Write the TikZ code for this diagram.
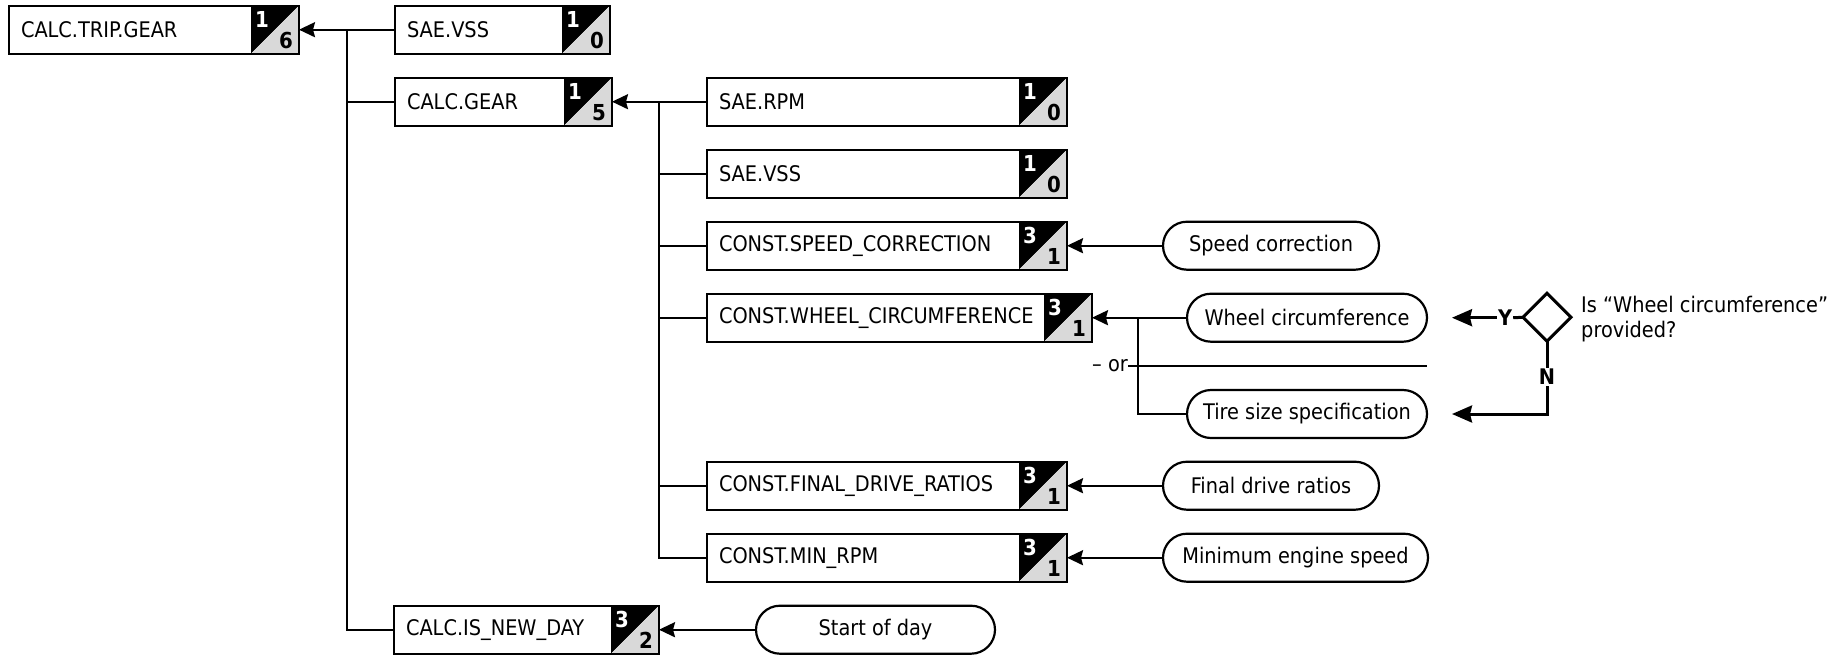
\documentclass[tikz,border=0pt]{standalone}
\usepackage{fontspec}
\setmainfont{DejaVu Sans Condensed}
\usetikzlibrary{arrows.meta,shapes.geometric,shapes.misc}
\definecolor{badgegray}{HTML}{D9D9D9}
\tikzset{
  txt/.style={font=\fontsize{21.5}{25}\selectfont},
  box/.style={draw, line width=2.2pt, minimum height=48pt, inner xsep=12pt, inner ysep=0pt, outer sep=0pt, align=left, txt},
  pill/.style={draw, rounded rectangle, line width=2.2pt, minimum height=48pt, inner sep=0pt, outer sep=0pt, txt},
  topnum/.style={inner sep=0pt, text=white, font=\fontsize{22}{25}\selectfont\bfseries},
  botnum/.style={inner sep=0pt, text=black, font=\fontsize{22}{25}\selectfont\bfseries},
  conn/.style={line width=2.2pt},
  arr/.style={line width=2.2pt, -{Stealth[length=16pt,width=15pt,inset=2pt]}},
  bigarr/.style={line width=3pt, -{Stealth[length=20pt,width=17pt,inset=2pt]}},
  declbl/.style={inner sep=1pt, font=\fontsize{21.5}{25}\selectfont\bfseries},
}
\newcommand\databox[7]{%
  \fill[black] ({#3-48},{#4-24}) -- ({#3},{#4-24}) -- ({#3-48},{#4+24}) -- cycle;
  \fill[badgegray] ({#3},{#4-24}) -- ({#3},{#4+24}) -- ({#3-48},{#4+24}) -- cycle;
  \pgfmathsetmacro\bxw{#3-#2-24}
  \node[box, text width=\bxw pt, anchor=west] (#1) at (#2,#4) {#5};
  \node[topnum] (#1-a) at ({#3-37},{#4-10}) {#6};
  \node[botnum] (#1-b) at ({#3-13},{#4+11}) {#7};
}
\begin{document}
\begin{tikzpicture}[x=1pt,y=-1pt]
\useasboundingbox (0,0) rectangle (1835,654);
% boxes
\databox{tripgear}{9}{299}{29.7}{CALC.TRIP.GEAR}{1}{6}
\databox{vssa}{395}{610}{29.7}{SAE.VSS}{1}{0}
\databox{calcgear}{395}{612}{101.7}{CALC.GEAR}{1}{5}
\databox{rpm}{707}{1067}{101.7}{SAE.RPM}{1}{0}
\databox{vssb}{707}{1067}{173.7}{SAE.VSS}{1}{0}
\databox{speed}{707}{1067}{245.7}{CONST.SPEED\_CORRECTION}{3}{1}
\databox{wheel}{707}{1092}{317.7}{CONST.WHEEL\_CIRCUMFERENCE}{3}{1}
\databox{final}{707}{1067}{485.7}{CONST.FINAL\_DRIVE\_RATIOS}{3}{1}
\databox{minrpm}{707}{1067}{557.7}{CONST.MIN\_RPM}{3}{1}
\databox{newday}{394}{659}{629.7}{CALC.IS\_NEW\_DAY}{3}{2}
% pills
\node[pill, minimum width=216pt, anchor=west] (speedp) at (1163,245.7) {Speed correction};
\node[pill, minimum width=240pt, anchor=west] (wheelp) at (1187,317.7) {Wheel circumference};
\node[pill, minimum width=240pt, anchor=west] (tirep) at (1187,414) {Tire size specification};
\node[pill, minimum width=216pt, anchor=west] (finalp) at (1163,485.7) {Final drive ratios};
\node[pill, minimum width=265pt, anchor=west] (minp) at (1163,557.7) {Minimum engine speed};
\node[pill, minimum width=239pt, anchor=west] (dayp) at (756,629.7) {Start of day};
% trunk coordinates
\coordinate (t1) at (347,0);
\coordinate (t2) at (659,0);
\coordinate (t3) at (1138,0);
% level 1
\draw[arr] (vssa.west) -- (tripgear.east);
\draw[conn] (t1 |- tripgear.east) -- (t1 |- newday.west) -- (newday.west);
\draw[conn] (t1 |- calcgear.west) -- (calcgear.west);
% level 2
\draw[arr] (rpm.west) -- (calcgear.east);
\draw[conn] (t2 |- calcgear.east) -- (t2 |- minrpm.west) -- (minrpm.west);
\draw[conn] (t2 |- vssb.west) -- (vssb.west);
\draw[conn] (t2 |- speed.west) -- (speed.west);
\draw[conn] (t2 |- wheel.west) -- (wheel.west);
\draw[conn] (t2 |- final.west) -- (final.west);
% inputs
\draw[arr] (speedp.west) -- (speed.east);
\draw[arr] (wheelp.west) -- (wheel.east);
\draw[conn] (t3 |- wheel.east) -- (t3 |- tirep.west) -- (tirep.west);
\draw[arr] (finalp.west) -- (final.east);
\draw[arr] (minp.west) -- (minrpm.east);
\draw[arr] (dayp.west) -- (newday.east);
% or line
\node[txt, inner sep=0pt, anchor=east] (orlbl) at (1128,366) {– or};
\coordinate (orend) at (1427,366);
\draw[conn] (orlbl.east) -- (orend);
% decision
\node[draw, diamond, line width=3pt, minimum width=48pt, minimum height=48pt, inner sep=0pt, outer sep=0pt] (dec) at (1547,317.3) {};
\node[declbl] (ylbl) at (1505,317.7) {Y};
\node[declbl] (nlbl) at (1547,377) {N};
\coordinate (yend) at (1452,317.7);
\coordinate (nend) at (1452,414);
\draw[line width=3pt] (dec.west) -- (ylbl.east);
\draw[bigarr] (ylbl.west) -- (yend);
\draw[line width=3pt] (dec.south) -- (nlbl.north);
\draw[bigarr] (nlbl.south) -- (nlbl.south |- nend) -- (nend);
\node[txt, anchor=north west, align=left, inner sep=0pt] (q) at (1581,296) {Is “Wheel circumference”\\provided?};
\end{tikzpicture}
\end{document}
